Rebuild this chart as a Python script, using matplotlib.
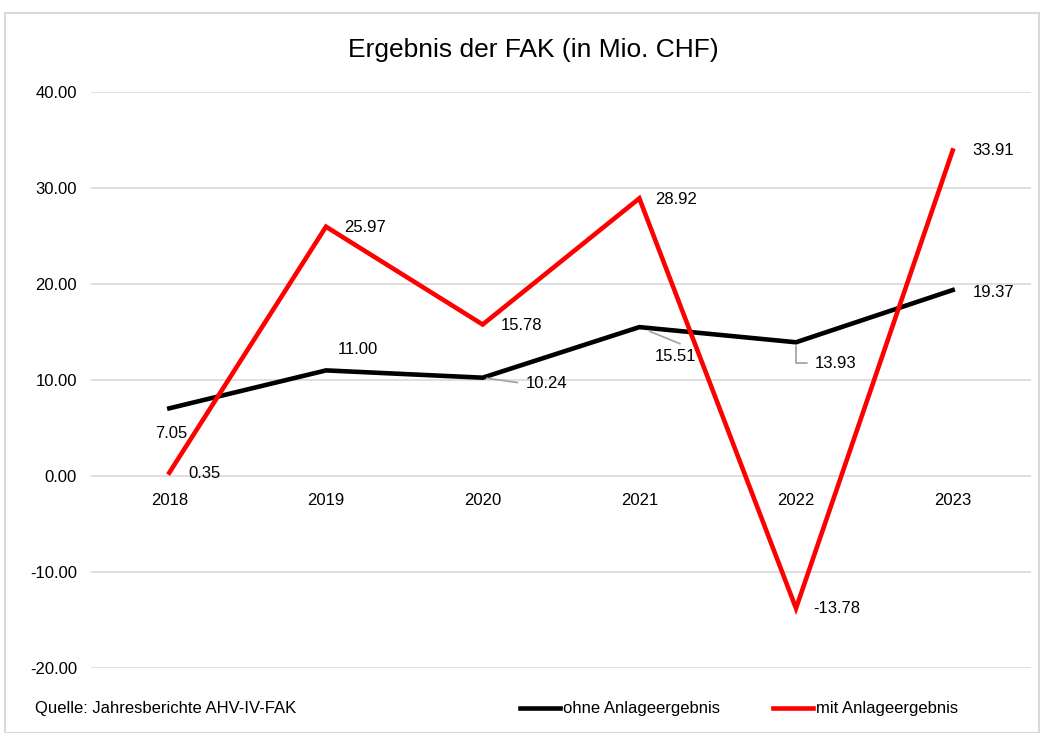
import matplotlib
matplotlib.use("Agg")
import matplotlib.pyplot as plt
from matplotlib.patches import Rectangle

plt.rcParams['font.family'] = ['Liberation Sans', 'DejaVu Sans']

years = ["2018", "2019", "2020", "2021", "2022", "2023"]
ohne = [7.05, 11.00, 10.24, 15.51, 13.93, 19.37]
mit = [0.35, 25.97, 15.78, 28.92, -13.78, 33.91]
yticks = [-20, -10, 0, 10, 20, 30, 40]

fig = plt.figure(figsize=(10.44, 7.33), dpi=100)
ax = fig.add_axes([91/1044, 1-668/733, 940/1044, 576/733])
fig.patches.append(Rectangle((5/1044, 0.0), 1034/1044, 1-13/733, transform=fig.transFigure,
                             fill=False, edgecolor='#D9D9D9', linewidth=1.5))

x = list(range(len(years)))
ax.set_xlim(-0.5, len(years)-0.5)
ax.set_ylim(-20, 40)
ax.set_yticks(yticks)
ax.set_yticklabels([f"{v:.2f}" for v in yticks], fontsize=12)
ax.tick_params(axis='y', length=0, pad=10)
ax.set_xticks([])
ax.grid(axis='y', color='#D9D9D9', linewidth=1.2)
ax.set_axisbelow(True)
for s in ax.spines.values():
    s.set_visible(False)

for i, yr in enumerate(years):
    ax.annotate(yr, (i, 0), xytext=(0, -25), textcoords='offset pixels',
                ha='center', va='center', fontsize=12)

l1, = ax.plot(x, ohne, color='black', linewidth=3.3, solid_joinstyle='miter', zorder=3,
              label='ohne Anlageergebnis')
l2, = ax.plot(x, mit, color='#FF0000', linewidth=3.3, solid_joinstyle='miter', zorder=4,
              label='mit Anlageergebnis')

ohne_off = [(2, -25), (32, 21), (64, -6), (36, -29), (40, -21), (41, -2)]
mit_off = [(35, -1), (39, -1), (39, -1), (37, -1), (41, 0), (40, 0)]
leaders = {
    2: dict(connectionstyle="arc3", relpos=(0.0, 0.5), shrinkB=3),
    3: dict(connectionstyle="arc3", relpos=(0.9, 1.0), shrinkB=8),
    4: dict(connectionstyle="angle,angleA=0,angleB=90,rad=0", relpos=(0.0, 0.5), shrinkB=3),
}

for i, (v, off) in enumerate(zip(ohne, ohne_off)):
    kw = {}
    if i in leaders:
        kw['arrowprops'] = dict(arrowstyle='-', color='#A6A6A6', lw=1.3,
                                shrinkA=4, **leaders[i])
    ax.annotate(f"{v:.2f}", (i, v), xytext=off, textcoords='offset pixels',
                ha='center', va='center', fontsize=12, zorder=5, **kw)
for i, (v, off) in enumerate(zip(mit, mit_off)):
    ax.annotate(f"{v:.2f}", (i, v), xytext=off, textcoords='offset pixels',
                ha='center', va='center', fontsize=12, zorder=5)

fig.text(533/1044, 1-50/733, "Ergebnis der FAK (in Mio. CHF)", ha='center', va='center', fontsize=19)
fig.text(35/1044, 1-709/733, "Quelle: Jahresberichte AHV-IV-FAK", ha='left', va='center', fontsize=12)
fig.legend(handles=[l1, l2], loc='center', bbox_to_anchor=(739/1044, 1-709/733), ncol=2,
           frameon=False, fontsize=12, handlelength=2.4, handletextpad=0.15, columnspacing=3.2)

fig.savefig("out.png", dpi=100)
